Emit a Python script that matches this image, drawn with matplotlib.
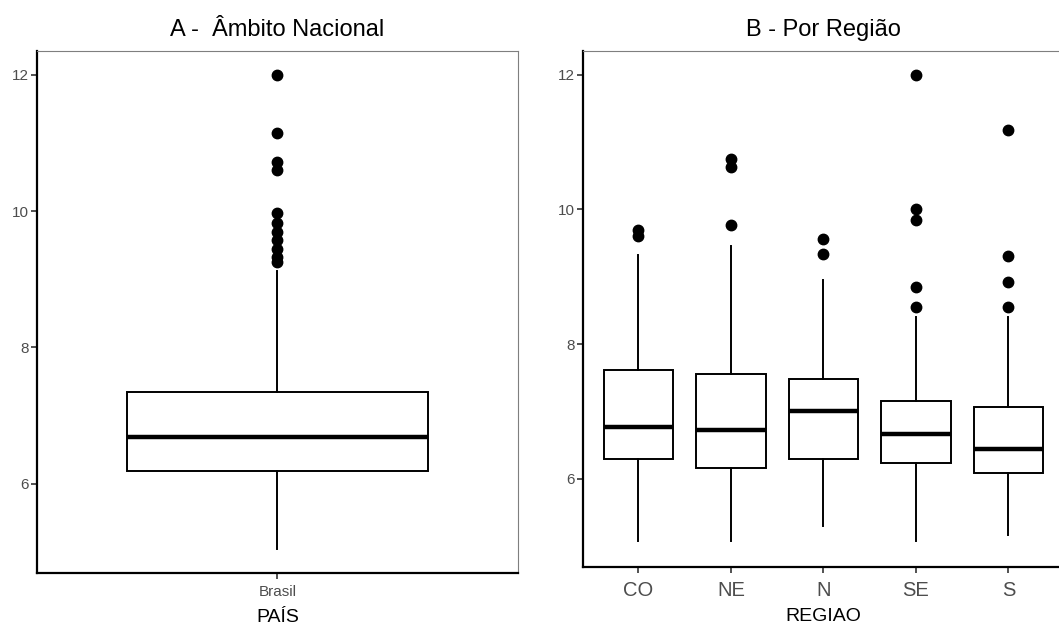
import matplotlib
matplotlib.use("Agg")
import matplotlib.pyplot as plt

plt.rcParams['font.family'] = ['Liberation Sans', 'DejaVu Sans']

# A - national level
brasil_q1 = 6.18
brasil_med = 6.69
brasil_q3 = 7.34
brasil_low = 5.04
brasil_high = 9.12
brasil_out = [12.0, 11.15, 10.72, 10.60, 9.97, 9.82, 9.70, 9.57, 9.45, 9.32, 9.25]

# B - by region
regioes = ['CO', 'NE', 'N', 'SE', 'S']
q1 = [6.30, 6.16, 6.30, 6.24, 6.09]
med = [6.77, 6.72, 7.01, 6.67, 6.44]
q3 = [7.61, 7.55, 7.48, 7.16, 7.07]
low = [5.08, 5.08, 5.30, 5.07, 5.16]
high = [9.32, 9.46, 8.95, 8.40, 8.40]
outliers = [
    [9.70, 9.60],
    [10.75, 10.63, 9.76],
    [9.56, 9.33],
    [12.0, 10.0, 9.84, 8.84, 8.55],
    [11.17, 9.30, 8.92, 8.55],
]


def stats(lo, a, m, b, hi, fl):
    return dict(whislo=lo, q1=a, med=m, q3=b, whishi=hi, fliers=fl)


box_kw = dict(
    widths=0.75, showcaps=False, patch_artist=True,
    boxprops=dict(facecolor='white', edgecolor='black', linewidth=1.4),
    medianprops=dict(color='black', linewidth=3.2),
    whiskerprops=dict(color='black', linewidth=1.4),
    flierprops=dict(marker='o', markerfacecolor='black', markeredgecolor='black',
                    markersize=7.5),
)

fig = plt.figure(figsize=(10.59, 6.25), dpi=100)
ax1 = fig.add_axes([0.0349, 0.0832, 0.4542, 0.8352])
ax2 = fig.add_axes([0.5505, 0.0928, 0.4542, 0.8256])

ax1.bxp([stats(brasil_low, brasil_q1, brasil_med, brasil_q3, brasil_high, brasil_out)],
        positions=[1], **box_kw)
ax1.set_xlim(0.4, 1.6)
ax1.set_xticks([1])
ax1.set_xticklabels(['Brasil'])
ax1.set_xlabel('PAÍS', fontsize=14, labelpad=6.5)
ax1.set_title('A -  Âmbito Nacional', fontsize=17, pad=11)

ax2.bxp([stats(low[i], q1[i], med[i], q3[i], high[i], outliers[i]) for i in range(5)],
        positions=range(1, 6), **box_kw)
ax2.set_xlim(0.4, 5.6)
ax2.set_xticks(range(1, 6))
ax2.set_xticklabels(regioes)
ax2.set_xlabel('REGIAO', fontsize=14, labelpad=6)
ax2.set_title('B - Por Região', fontsize=17, pad=11)

for ax in (ax1, ax2):
    ax.set_ylim(4.69, 12.35)
    ax.set_yticks([6, 8, 10, 12])
    ax.spines['left'].set_color('black')
    ax.spines['bottom'].set_color('black')
    ax.spines['left'].set_linewidth(1.6)
    ax.spines['bottom'].set_linewidth(1.6)
    ax.spines['top'].set_color('#7f7f7f')
    ax.spines['right'].set_color('#7f7f7f')
    ax.tick_params(axis='both', length=4, width=1.2, color='#333333',
                   labelcolor='#4d4d4d')
    ax.tick_params(axis='y', labelsize=11, pad=2)

ax1.tick_params(axis='x', labelsize=11, pad=5)
ax2.tick_params(axis='x', labelsize=14.5, pad=6)
ax2.spines['right'].set_visible(False)

fig.savefig('out.png', dpi=100)
